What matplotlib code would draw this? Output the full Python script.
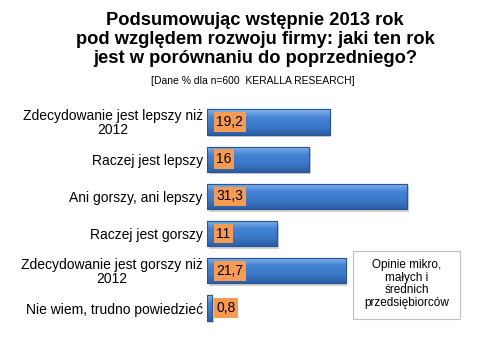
import matplotlib.pyplot as plt
import numpy as np
from matplotlib.colors import LinearSegmentedColormap

plt.rcParams['font.family'] = ['Liberation Sans', 'DejaVu Sans']

categories = ["Zdecydowanie jest lepszy niż\n2012",
              "Raczej jest lepszy",
              "Ani gorszy, ani lepszy",
              "Raczej jest gorszy",
              "Zdecydowanie jest gorszy niż\n2012",
              "Nie wiem, trudno powiedzieć"]
values = [19.2, 16, 31.3, 11, 21.7, 0.8]
value_labels = ["19,2", "16", "31,3", "11", "21,7", "0,8"]

title = ("Podsumowując wstępnie 2013 rok\n"
         "pod względem rozwoju firmy: jaki ten rok\n"
         "jest w porównaniu do poprzedniego?")
subtitle = "[Dane % dla n=600  KERALLA RESEARCH]"
note = "Opinie mikro,\nmałych i\nśrednich\nprzedsiębiorców"

fig = plt.figure(figsize=(4.81, 3.45), dpi=100)
ax = fig.add_axes([207 / 481, 0.0533, 256 / 481, 0.647])

y = np.arange(len(values))
h = 0.68
grad = LinearSegmentedColormap.from_list(
    "bar", ["#86b4ec", "#4383d4", "#3b79c9", "#2c5fa6"])
g = np.linspace(0, 1, 50).reshape(-1, 1)

# shadow
ax.barh(y + 0.07, values, height=h, left=0.25, color="#d3d3d3", zorder=1)
bars = ax.barh(y, values, height=h, color="#3f7fd0", edgecolor="#2a5590",
               linewidth=0.8, zorder=2)
for b in bars:
    x0, y0 = b.get_x(), b.get_y()
    w, hh = b.get_width(), b.get_height()
    im = ax.imshow(g, cmap=grad, aspect="auto", zorder=3,
                   extent=[x0, x0 + w, y0 + hh, y0])
    im.set_clip_path(b)
    ax.add_patch(plt.Rectangle((x0, y0), w, hh, fill=False,
                               edgecolor="#2a5590", linewidth=0.8, zorder=4))

for yi, lab in zip(y, value_labels):
    ax.text(1.45, yi, lab, ha="left", va="center", fontsize=10, zorder=5,
            bbox=dict(boxstyle="square,pad=0.2", facecolor="#f79a52",
                      edgecolor="none"))

ax.set_xlim(0, 40)
ax.set_ylim(5.5, -0.5)
ax.set_yticks(y)
ax.set_yticklabels(categories, fontsize=10, multialignment="center",
                   linespacing=1.0)
ax.tick_params(axis="y", length=0, pad=3)
ax.set_xticks([])
for s in ax.spines.values():
    s.set_visible(False)

fig.text(0.53, 0.965, title, ha="center", va="top", fontsize=13.2,
         fontweight="bold", linespacing=1.15)
fig.text(0.525, 0.78, subtitle, ha="center", va="top", fontsize=7.5)

fig.patches.append(plt.Rectangle((353 / 481, 1 - 319 / 345), 107 / 481,
                                 68 / 345, transform=fig.transFigure,
                                 facecolor="white", edgecolor="#bfbfbf",
                                 linewidth=0.8))
fig.text(406.5 / 481, 1 - 284 / 345, note, ha="center", va="center",
         fontsize=8.5, linespacing=1.08)

fig.savefig("out.png", dpi=100)
